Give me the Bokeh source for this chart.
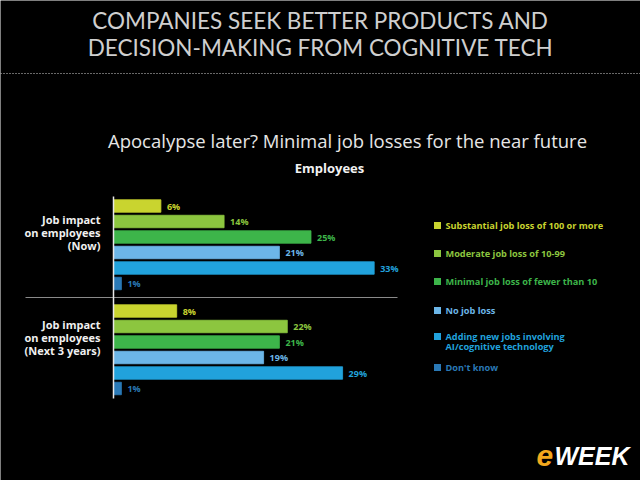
from bokeh.plotting import figure
from bokeh.models import Range1d, ColumnDataSource
from bokeh.core.properties import value
from bokeh.embed import file_html
from bokeh.resources import INLINE

# --- data -------------------------------------------------------------
categories = [
    "Substantial job loss of 100 or more",
    "Moderate job loss of 10-99",
    "Minimal job loss of fewer than 10",
    "No job loss",
    "Adding new jobs involving\nAI/cognitive technology",
    "Don't know",
]
now_values = [6, 14, 25, 21, 33, 1]
next3_values = [8, 22, 21, 19, 29, 1]
group_labels = ["Job impact\non employees\n(Now)", "Job impact\non employees\n(Next 3 years)"]

header = "COMPANIES SEEK BETTER PRODUCTS AND\nDECISION-MAKING FROM COGNITIVE TECH"
title = "Apocalypse later? Minimal job losses for the near future"
subtitle = "Employees"

# --- style ------------------------------------------------------------
colors = ["#c9d42f", "#8cc63f", "#3db54a", "#6cb6e8", "#21a2dc", "#2a79b6"]
W, H = 640, 480
AXIS_X = 113          # pixel position of the zero line
PX_PER = 7.9          # pixels per percentage point
BAR_STEP = 15.5
GROUP_TOP = [205.5, 310.5]
FONT = "Open Sans"


def sx(px):
    return (px - AXIS_X) / PX_PER


p = figure(width=W, height=H, output_backend="svg", toolbar_location=None,
           x_range=Range1d(sx(0), sx(W)), y_range=Range1d(H, 0),
           x_axis_type=None, y_axis_type=None, min_border=0,
           background_fill_color="black", border_fill_color="black",
           outline_line_color=None)
p.grid.visible = False

# header and dotted rule
p.text(x=[sx(320)], y=[33.5], text=[header], text_align="center", text_baseline="middle",
       text_font=value("Lato"), text_font_size="22.5px", text_color="#cfcfcf",
       text_line_height=0.98)
p.line(x=[sx(0), sx(W)], y=[73, 73], line_color="#d0d0d0", line_width=1.2, line_dash="1 2")

# chart titles
p.text(x=[sx(347)], y=[140], text=[title], text_align="center", text_baseline="middle",
       text_font=value(FONT), text_font_size="18.5px", text_color="#e6e6e6")
p.text(x=[sx(329)], y=[167], text=[subtitle], text_align="center", text_baseline="middle",
       text_font=value(FONT), text_font_style="bold", text_font_size="13px", text_color="#f2f2f2")

# bars
for g, vals in enumerate([now_values, next3_values]):
    ys = [GROUP_TOP[g] + i * BAR_STEP for i in range(len(vals))]
    src = ColumnDataSource(dict(y=ys, v=vals, c=colors, lab=[f"{v}%" for v in vals]))
    p.hbar(y="y", left=0, right="v", height=12.5, fill_color="c", line_color="c",
           line_width=0.8, source=src)
    p.text(x="v", y="y", text="lab", text_color="c", x_offset=6, text_baseline="middle",
           text_font=value(FONT), text_font_style="bold", text_font_size="9px", source=src)
    p.text(x=[sx(100)], y=[GROUP_TOP[g] + 26.5], text=[group_labels[g]],
           text_align="right", text_baseline="middle", text_font=value(FONT),
           text_font_style="bold", text_font_size="11px", text_color="#f0f0f0",
           text_line_height=0.87)

# separator and zero line
p.line(x=[sx(25), sx(397)], y=[297, 297], line_color="#8a8a8a", line_width=1.2)
p.line(x=[0, 0], y=[196, 398], line_color="#e8e8e8", line_width=1.5)

# legend
leg_y = [225, 253, 281, 310, 341, 367]
p.rect(x=[sx(437)] * 6, y=[225, 253, 281, 310, 336, 367], width=7 / PX_PER, height=7,
       fill_color=colors, line_color=None)
p.text(x=[sx(445)] * 6, y=leg_y, text=categories, text_color=colors, text_baseline="middle",
       text_font=value(FONT), text_font_style="bold", text_font_size="9.2px",
       text_line_height=0.82)

# logo
p.text(x=[sx(536)], y=[455], text=["e"], text_color="#f2a81d", text_baseline="middle",
       text_font=value("Liberation Sans"), text_font_style="bold italic", text_font_size="30px")
p.text(x=[sx(554)], y=[455], text=["WEEK"], text_color="#ffffff", text_baseline="middle",
       text_font=value("Liberation Sans"), text_font_style="bold italic", text_font_size="25px")

open("out.html", "w").write(file_html(p, INLINE))
